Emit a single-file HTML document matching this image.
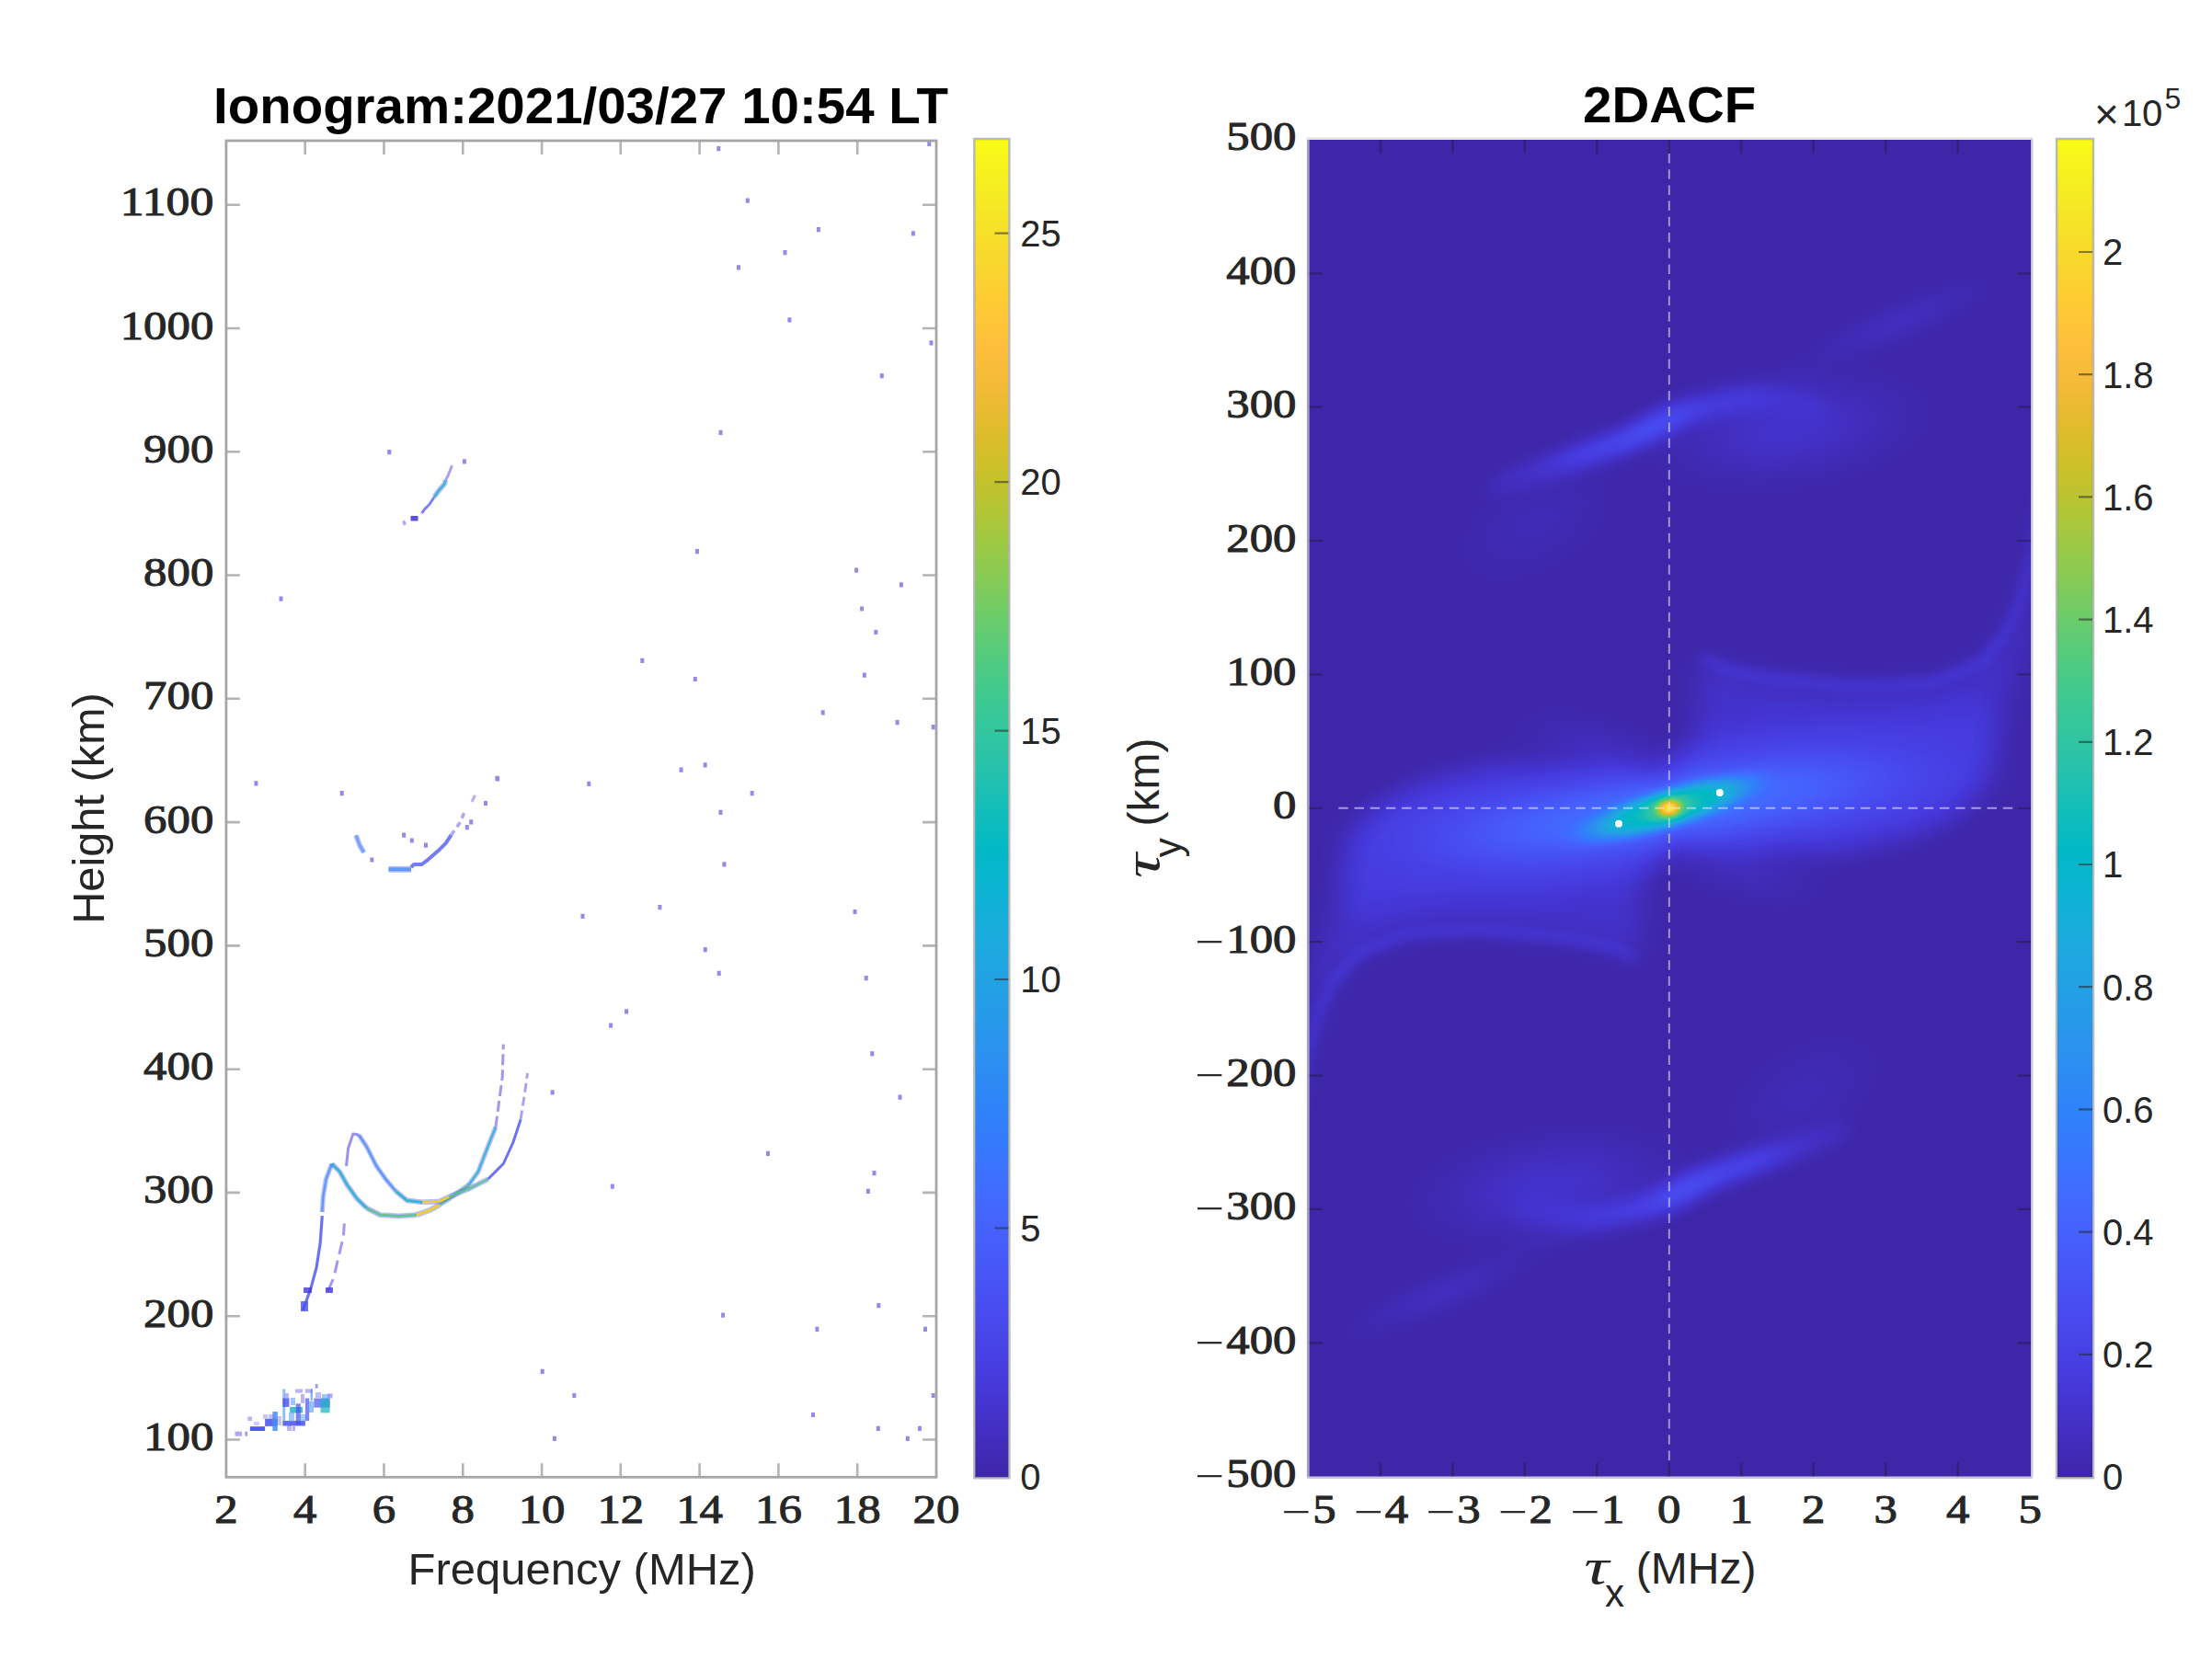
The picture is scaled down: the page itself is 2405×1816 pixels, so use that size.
<!DOCTYPE html>
<html lang="en"><head><meta charset="utf-8"><title>Ionogram and 2DACF</title>
<style>html,body{margin:0;padding:0;background:#fff;overflow:hidden}svg{display:block}.tk{font-family:"Liberation Serif",serif;font-weight:normal;font-size:44px;fill:#262626;stroke:#262626;stroke-width:1px}.mn{font-family:"Liberation Serif",serif;font-weight:normal;font-size:44px;fill:#262626}.sa{font-family:"Liberation Sans",sans-serif;fill:#262626}.tt{font-family:"Liberation Sans",sans-serif;font-weight:bold;fill:#000}</style></head><body>
<svg width="2405" height="1816" viewBox="0 0 2405 1816">
<defs>
<linearGradient id="pg" x1="0" y1="1" x2="0" y2="0"><stop offset="0.0000" stop-color="#3e26a8"/><stop offset="0.0312" stop-color="#422ebf"/><stop offset="0.0625" stop-color="#4536d5"/><stop offset="0.0938" stop-color="#4741e5"/><stop offset="0.1250" stop-color="#484cef"/><stop offset="0.1562" stop-color="#4757f7"/><stop offset="0.1875" stop-color="#4562fc"/><stop offset="0.2188" stop-color="#3f6efe"/><stop offset="0.2500" stop-color="#347afd"/><stop offset="0.2812" stop-color="#2e85f8"/><stop offset="0.3125" stop-color="#2c90f0"/><stop offset="0.3438" stop-color="#269ae9"/><stop offset="0.3750" stop-color="#21a3e3"/><stop offset="0.4062" stop-color="#1aacdd"/><stop offset="0.4375" stop-color="#0cb3d3"/><stop offset="0.4688" stop-color="#01b9c6"/><stop offset="0.5000" stop-color="#12beb9"/><stop offset="0.5312" stop-color="#28c2ab"/><stop offset="0.5625" stop-color="#34c79c"/><stop offset="0.5938" stop-color="#44ca8a"/><stop offset="0.6250" stop-color="#5ccc76"/><stop offset="0.6562" stop-color="#77cc60"/><stop offset="0.6875" stop-color="#94ca4a"/><stop offset="0.7188" stop-color="#afc637"/><stop offset="0.7500" stop-color="#c8c129"/><stop offset="0.7812" stop-color="#debc2a"/><stop offset="0.8125" stop-color="#f1ba37"/><stop offset="0.8438" stop-color="#febe3c"/><stop offset="0.8750" stop-color="#feca33"/><stop offset="0.9062" stop-color="#f9d62d"/><stop offset="0.9375" stop-color="#f5e327"/><stop offset="0.9688" stop-color="#f6ef20"/><stop offset="1.0000" stop-color="#f9fb15"/></linearGradient>
<radialGradient id="gg"><stop offset="0.000" stop-color="#fff" stop-opacity="1.0000"/><stop offset="0.050" stop-color="#fff" stop-opacity="0.9883"/><stop offset="0.100" stop-color="#fff" stop-opacity="0.9549"/><stop offset="0.150" stop-color="#fff" stop-opacity="0.9020"/><stop offset="0.200" stop-color="#fff" stop-opacity="0.8330"/><stop offset="0.250" stop-color="#fff" stop-opacity="0.7521"/><stop offset="0.300" stop-color="#fff" stop-opacity="0.6636"/><stop offset="0.350" stop-color="#fff" stop-opacity="0.5723"/><stop offset="0.400" stop-color="#fff" stop-opacity="0.4823"/><stop offset="0.450" stop-color="#fff" stop-opacity="0.3970"/><stop offset="0.500" stop-color="#fff" stop-opacity="0.3191"/><stop offset="0.550" stop-color="#fff" stop-opacity="0.2502"/><stop offset="0.600" stop-color="#fff" stop-opacity="0.1912"/><stop offset="0.650" stop-color="#fff" stop-opacity="0.1422"/><stop offset="0.700" stop-color="#fff" stop-opacity="0.1025"/><stop offset="0.750" stop-color="#fff" stop-opacity="0.0712"/><stop offset="0.800" stop-color="#fff" stop-opacity="0.0472"/><stop offset="0.850" stop-color="#fff" stop-opacity="0.0293"/><stop offset="0.900" stop-color="#fff" stop-opacity="0.0161"/><stop offset="0.950" stop-color="#fff" stop-opacity="0.0067"/><stop offset="1.000" stop-color="#fff" stop-opacity="0.0000"/></radialGradient>
<radialGradient id="gf"><stop offset="0.000" stop-color="#fff" stop-opacity="1.0000"/><stop offset="0.042" stop-color="#fff" stop-opacity="1.0000"/><stop offset="0.083" stop-color="#fff" stop-opacity="0.9998"/><stop offset="0.125" stop-color="#fff" stop-opacity="0.9988"/><stop offset="0.167" stop-color="#fff" stop-opacity="0.9961"/><stop offset="0.208" stop-color="#fff" stop-opacity="0.9905"/><stop offset="0.250" stop-color="#fff" stop-opacity="0.9804"/><stop offset="0.292" stop-color="#fff" stop-opacity="0.9640"/><stop offset="0.333" stop-color="#fff" stop-opacity="0.9394"/><stop offset="0.375" stop-color="#fff" stop-opacity="0.9047"/><stop offset="0.417" stop-color="#fff" stop-opacity="0.8585"/><stop offset="0.458" stop-color="#fff" stop-opacity="0.7998"/><stop offset="0.500" stop-color="#fff" stop-opacity="0.7288"/><stop offset="0.542" stop-color="#fff" stop-opacity="0.6467"/><stop offset="0.583" stop-color="#fff" stop-opacity="0.5564"/><stop offset="0.625" stop-color="#fff" stop-opacity="0.4619"/><stop offset="0.667" stop-color="#fff" stop-opacity="0.3679"/><stop offset="0.708" stop-color="#fff" stop-opacity="0.2796"/><stop offset="0.750" stop-color="#fff" stop-opacity="0.2015"/><stop offset="0.792" stop-color="#fff" stop-opacity="0.1369"/><stop offset="0.833" stop-color="#fff" stop-opacity="0.0870"/><stop offset="0.875" stop-color="#fff" stop-opacity="0.0514"/><stop offset="0.917" stop-color="#fff" stop-opacity="0.0280"/><stop offset="0.958" stop-color="#fff" stop-opacity="0.0140"/><stop offset="1.000" stop-color="#fff" stop-opacity="0.0063"/></radialGradient>
<filter id="cm" filterUnits="userSpaceOnUse" x="1300" y="50" width="1050" height="1700" color-interpolation-filters="sRGB"><feComponentTransfer><feFuncR type="table" tableValues="0.2422 0.2504 0.2578 0.2647 0.2706 0.2751 0.2783 0.2803 0.2813 0.2810 0.2795 0.2760 0.2699 0.2602 0.2440 0.2206 0.1963 0.1834 0.1786 0.1764 0.1687 0.1540 0.1460 0.1380 0.1248 0.1113 0.0952 0.0689 0.0297 0.0036 0.0067 0.0433 0.0964 0.1408 0.1717 0.1938 0.2161 0.2470 0.2906 0.3406 0.3909 0.4456 0.5044 0.5616 0.6174 0.6720 0.7242 0.7738 0.8203 0.8634 0.9035 0.9393 0.9728 0.9956 0.9970 0.9952 0.9892 0.9786 0.9676 0.9610 0.9597 0.9628 0.9691 0.9769"/><feFuncG type="table" tableValues="0.1504 0.1650 0.1818 0.1978 0.2147 0.2342 0.2559 0.2782 0.3006 0.3228 0.3447 0.3667 0.3892 0.4123 0.4358 0.4603 0.4847 0.5074 0.5289 0.5499 0.5703 0.5902 0.6091 0.6276 0.6459 0.6635 0.6798 0.6948 0.7082 0.7203 0.7312 0.7411 0.7500 0.7584 0.7670 0.7758 0.7843 0.7918 0.7973 0.8008 0.8029 0.8024 0.7993 0.7942 0.7876 0.7793 0.7698 0.7598 0.7498 0.7406 0.7330 0.7288 0.7298 0.7434 0.7659 0.7893 0.8136 0.8386 0.8639 0.8890 0.9135 0.9373 0.9606 0.9839"/><feFuncB type="table" tableValues="0.6603 0.7076 0.7511 0.7952 0.8364 0.8710 0.8991 0.9221 0.9414 0.9579 0.9717 0.9829 0.9906 0.9952 0.9988 0.9973 0.9892 0.9798 0.9682 0.9520 0.9359 0.9218 0.9079 0.8973 0.8883 0.8763 0.8598 0.8394 0.8163 0.7917 0.7660 0.7394 0.7120 0.6842 0.6554 0.6251 0.5923 0.5567 0.5188 0.4789 0.4354 0.3909 0.3480 0.3045 0.2612 0.2227 0.1910 0.1646 0.1535 0.1596 0.1774 0.2100 0.2394 0.2371 0.2199 0.2028 0.1885 0.1766 0.1643 0.1537 0.1423 0.1265 0.1064 0.0805"/></feComponentTransfer></filter>
<filter id="b3" filterUnits="userSpaceOnUse" x="-700" y="-950" width="1400" height="1900" color-interpolation-filters="sRGB"><feGaussianBlur stdDeviation="3"/></filter>
<filter id="b6" filterUnits="userSpaceOnUse" x="-700" y="-950" width="1400" height="1900" color-interpolation-filters="sRGB"><feGaussianBlur stdDeviation="6"/></filter>
<filter id="b10" filterUnits="userSpaceOnUse" x="-700" y="-950" width="1400" height="1900" color-interpolation-filters="sRGB"><feGaussianBlur stdDeviation="10"/></filter>
<filter id="b16" filterUnits="userSpaceOnUse" x="-700" y="-950" width="1400" height="1900" color-interpolation-filters="sRGB"><feGaussianBlur stdDeviation="16"/></filter>
<filter id="b24" filterUnits="userSpaceOnUse" x="-700" y="-950" width="1400" height="1900" color-interpolation-filters="sRGB"><feGaussianBlur stdDeviation="24"/></filter>
<clipPath id="hc"><rect x="1423.3" y="152" width="785" height="1453.8"/></clipPath>
<clipPath id="lc"><rect x="246.3" y="152.8" width="771.8" height="1453.5"/></clipPath>
</defs>
<rect width="2405" height="1816" fill="#fff"/>
<g clip-path="url(#lc)">
<path d="M779.3 159.1h4v5.2h-4zM1008.3 153.7h4v5.2h-4zM810.8 215.5h4v5.2h-4zM887.9 247.0h4v5.2h-4zM990.9 251.3h4v5.2h-4zM851.5 272.0h4v5.2h-4zM801.0 288.2h4v5.2h-4zM856.4 345.2h4v5.2h-4zM1010.5 370.2h4v5.2h-4zM956.8 406.0h4v5.2h-4zM781.5 467.8h4v5.2h-4zM421.2 489.0h4v5.2h-4zM502.9 499.2h4v5.2h-4zM756.0 597.0h4v5.2h-4zM929.1 617.6h4v5.2h-4zM977.9 633.3h4v5.2h-4zM303.5 648.5h4v5.2h-4zM935.1 659.4h4v5.2h-4zM950.3 684.9h4v5.2h-4zM696.3 715.8h4v5.2h-4zM753.8 735.9h4v5.2h-4zM937.8 731.5h4v5.2h-4zM892.7 772.2h4v5.2h-4zM973.6 783.1h4v5.2h-4zM1012.7 788.0h4v5.2h-4zM738.6 834.6h4v5.2h-4zM764.7 829.2h4v5.2h-4zM276.4 849.3h4v5.2h-4zM638.3 849.8h4v5.2h-4zM369.7 860.1h4v5.2h-4zM538.4 843.8h4v5.2h-4zM815.7 860.1h4v5.2h-4zM781.5 880.7h4v5.2h-4zM785.4 937.3h4v5.2h-4zM631.5 993.7h4v5.2h-4zM715.4 984.1h4v5.2h-4zM927.5 988.9h4v5.2h-4zM764.8 1030.0h4v5.2h-4zM779.7 1055.8h4v5.2h-4zM939.7 1061.0h4v5.2h-4zM679.1 1097.3h4v5.2h-4zM662.1 1112.6h4v5.2h-4zM946.3 1143.3h4v5.2h-4zM598.7 1185.2h4v5.2h-4zM976.5 1190.5h4v5.2h-4zM833.0 1251.7h4v5.2h-4zM948.5 1273.1h4v5.2h-4zM941.9 1292.8h4v5.2h-4zM663.8 1287.5h4v5.2h-4zM953.3 1417.0h4v5.2h-4zM784.1 1427.5h4v5.2h-4zM886.4 1442.8h4v5.2h-4zM1004.0 1442.8h4v5.2h-4zM587.7 1488.7h4v5.2h-4zM622.3 1514.9h4v5.2h-4zM1012.7 1514.9h4v5.2h-4zM882.0 1535.9h4v5.2h-4zM952.8 1550.8h4v5.2h-4zM997.9 1550.8h4v5.2h-4zM984.8 1561.7h4v5.2h-4zM600.9 1561.7h4v5.2h-4zM437.1 905.6h4v5.2h-4zM445.8 911.4h4v5.2h-4zM461.0 916.5h4v5.2h-4zM510.2 891.2h4v5.2h-4zM505.8 897.0h4v5.2h-4zM526.0 870.9h4v5.2h-4zM539.1 844.2h4v5.2h-4zM402.4 932.4h4v5.2h-4z" fill="#4f44dc" fill-opacity="0.62"/>
<path d="M329.3 1424.8L337.7 1401.8L344.0 1378.7L348.2 1351.5L350.3 1322.1" fill="none" stroke="#4650f0" stroke-width="3.2" stroke-opacity="0.8" stroke-linejoin="round"/>
<path d="M350.3 1318.0L351.3 1301.2L354.5 1282.3L360.8 1265.5" fill="none" stroke="#4a5af5" stroke-width="5.199999999999999" stroke-opacity="0.4" stroke-linejoin="round"/>
<path d="M350.3 1318.0L351.3 1301.2L354.5 1282.3L360.8 1265.5" fill="none" stroke="#3f8ff5" stroke-width="2.1999999999999997" stroke-opacity="0.75" stroke-linejoin="round"/>
<path d="M360.8 1265.5L369.2 1273.9L377.5 1288.6L388.0 1303.3L398.5 1313.7" fill="none" stroke="#4a5af5" stroke-width="5.6" stroke-opacity="0.4" stroke-linejoin="round"/>
<path d="M360.8 1265.5L369.2 1273.9L377.5 1288.6L388.0 1303.3L398.5 1313.7" fill="none" stroke="#1fb4c4" stroke-width="2.6" stroke-opacity="0.85" stroke-linejoin="round"/>
<path d="M398.5 1313.7L413.2 1321.1L434.1 1322.3L453.0 1321.1" fill="none" stroke="#4a5af5" stroke-width="5.8" stroke-opacity="0.4" stroke-linejoin="round"/>
<path d="M398.5 1313.7L413.2 1321.1L434.1 1322.3L453.0 1321.1" fill="none" stroke="#5cc48a" stroke-width="2.8" stroke-opacity="0.9" stroke-linejoin="round"/>
<path d="M453.0 1321.1L467.6 1315.8L478.0 1310.0" fill="none" stroke="#4a5af5" stroke-width="6.0" stroke-opacity="0.4" stroke-linejoin="round"/>
<path d="M453.0 1321.1L467.6 1315.8L478.0 1310.0" fill="none" stroke="#f2cf22" stroke-width="3.0" stroke-opacity="0.95" stroke-linejoin="round"/>
<path d="M478.0 1310.0L488.6 1303.3L509.6 1288.6" fill="none" stroke="#4a5af5" stroke-width="5.6" stroke-opacity="0.4" stroke-linejoin="round"/>
<path d="M478.0 1310.0L488.6 1303.3L509.6 1288.6" fill="none" stroke="#5cc48a" stroke-width="2.6" stroke-opacity="0.9" stroke-linejoin="round"/>
<path d="M509.6 1288.6L520.0 1273.9L530.5 1246.7L538.9 1225.7" fill="none" stroke="#4a5af5" stroke-width="5.199999999999999" stroke-opacity="0.4" stroke-linejoin="round"/>
<path d="M509.6 1288.6L520.0 1273.9L530.5 1246.7L538.9 1225.7" fill="none" stroke="#1fb4c4" stroke-width="2.1999999999999997" stroke-opacity="0.8" stroke-linejoin="round"/>
<path d="M538.9 1225.7L543.1 1194.3L546.2 1171.2L547.3 1135.6" fill="none" stroke="#7a6ce8" stroke-width="3.0" stroke-opacity="0.7" stroke-linejoin="round" stroke-dasharray="12 5"/>
<path d="M356.6 1403.9L362.9 1389.2L369.2 1362.0L373.3 1345.2L374.4 1330.5" fill="none" stroke="#7a6ce8" stroke-width="3.0" stroke-opacity="0.7" stroke-linejoin="round" stroke-dasharray="14 7"/>
<path d="M376.5 1268.0L378.6 1248.8L383.8 1233.1L390.1 1234.1" fill="none" stroke="#7a6ce8" stroke-width="3.0" stroke-opacity="0.75" stroke-linejoin="round"/>
<path d="M390.1 1234.1L398.5 1246.7L409.0 1267.6L419.4 1282.3L429.9 1294.9" fill="none" stroke="#4a5af5" stroke-width="5.199999999999999" stroke-opacity="0.4" stroke-linejoin="round"/>
<path d="M390.1 1234.1L398.5 1246.7L409.0 1267.6L419.4 1282.3L429.9 1294.9" fill="none" stroke="#3f8ff5" stroke-width="2.1999999999999997" stroke-opacity="0.8" stroke-linejoin="round"/>
<path d="M429.9 1294.9L442.5 1305.4L459.3 1307.4" fill="none" stroke="#4a5af5" stroke-width="5.6" stroke-opacity="0.4" stroke-linejoin="round"/>
<path d="M429.9 1294.9L442.5 1305.4L459.3 1307.4" fill="none" stroke="#1fb4c4" stroke-width="2.6" stroke-opacity="0.85" stroke-linejoin="round"/>
<path d="M459.3 1307.4L478.1 1306.4L488.6 1301.2" fill="none" stroke="#4a5af5" stroke-width="5.8" stroke-opacity="0.4" stroke-linejoin="round"/>
<path d="M459.3 1307.4L478.1 1306.4L488.6 1301.2" fill="none" stroke="#f2cf22" stroke-width="2.8" stroke-opacity="0.9" stroke-linejoin="round"/>
<path d="M488.6 1301.2L509.6 1292.8L530.5 1282.3" fill="none" stroke="#4a5af5" stroke-width="5.6" stroke-opacity="0.4" stroke-linejoin="round"/>
<path d="M488.6 1301.2L509.6 1292.8L530.5 1282.3" fill="none" stroke="#5cc48a" stroke-width="2.6" stroke-opacity="0.85" stroke-linejoin="round"/>
<path d="M530.5 1282.3L547.3 1265.5L557.8 1242.5L566.1 1217.4" fill="none" stroke="#4650f0" stroke-width="3.0" stroke-opacity="0.8" stroke-linejoin="round"/>
<path d="M566.1 1217.4L570.3 1190.1L573.5 1167.0" fill="none" stroke="#7a6ce8" stroke-width="2.8" stroke-opacity="0.65" stroke-linejoin="round" stroke-dasharray="10 5"/>
<rect x="327" y="1415" width="8" height="11" fill="#4650f0" fill-opacity="0.8"/><rect x="330" y="1400" width="9" height="6" fill="#4438d8" fill-opacity="0.8"/><rect x="354" y="1400" width="8" height="6" fill="#4438d8" fill-opacity="0.8"/>
<path d="M422.5 945.3L447.0 945.3" fill="none" stroke="#4a5af5" stroke-width="6.9" stroke-opacity="0.4" stroke-linejoin="round"/>
<path d="M422.5 945.3L447.0 945.3" fill="none" stroke="#3f8ff5" stroke-width="3.9" stroke-opacity="0.75" stroke-linejoin="round"/>
<path d="M447.0 943.0L450.0 940.0L458.6 940.0L465.9 934.3L476.0 925.6L484.7 916.9L490.5 908.2" fill="none" stroke="#4650f0" stroke-width="4.0" stroke-opacity="0.75" stroke-linejoin="round"/>
<path d="M490.5 908.2L500.6 893.8L505.0 882.9" fill="none" stroke="#7a6ce8" stroke-width="3.6" stroke-opacity="0.6" stroke-linejoin="round" stroke-dasharray="6 5"/>
<path d="M513.0 872.0L516.5 864.8" fill="none" stroke="#7a6ce8" stroke-width="3.2" stroke-opacity="0.5" stroke-linejoin="round"/>
<path d="M387.0 908.2L391.0 919.0L395.7 927.0" fill="none" stroke="#4a5af5" stroke-width="5.6" stroke-opacity="0.4" stroke-linejoin="round"/>
<path d="M387.0 908.2L391.0 919.0L395.7 927.0" fill="none" stroke="#3f8ff5" stroke-width="2.6" stroke-opacity="0.6" stroke-linejoin="round"/>
<path d="M438.0 569.1L441.0 568.0" fill="none" stroke="#7a6ce8" stroke-width="5" stroke-opacity="0.6" stroke-linejoin="round"/>
<path d="M446.5 563.7L454.5 563.7" fill="none" stroke="#4a3cd8" stroke-width="5.5" stroke-opacity="0.9" stroke-linejoin="round"/>
<path d="M458.6 558.2L461.5 553.9L466.9 548.5L472.3 540.2" fill="none" stroke="#4650f0" stroke-width="3.0" stroke-opacity="0.7" stroke-linejoin="round"/>
<path d="M472.3 540.2L477.8 532.6L483.2 526.4L484.6 522.1" fill="none" stroke="#4a5af5" stroke-width="5.6" stroke-opacity="0.4" stroke-linejoin="round"/>
<path d="M472.3 540.2L477.8 532.6L483.2 526.4L484.6 522.1" fill="none" stroke="#1fb4c4" stroke-width="2.6" stroke-opacity="0.75" stroke-linejoin="round"/>
<path d="M484.6 522.1L487.5 516.3L491.5 506.2" fill="none" stroke="#7a6ce8" stroke-width="3.0" stroke-opacity="0.65" stroke-linejoin="round"/>
<rect x="255.5" y="1556.7" width="7.6" height="5" fill="#7a6ce8" fill-opacity="0.6"/>
<rect x="266.4" y="1556.7" width="2.6" height="5" fill="#7a6ce8" fill-opacity="0.7"/>
<rect x="271.8" y="1551.2" width="16.3" height="4.8" fill="#4650f0" fill-opacity="0.95"/>
<rect x="269.3" y="1540.4" width="4.7" height="4.7" fill="#7a6ce8" fill-opacity="0.5"/>
<rect x="288.1" y="1542.9" width="13.4" height="8" fill="#4650f0" fill-opacity="0.85"/>
<rect x="296.4" y="1535" width="5.4" height="21" fill="#3f8ff5" fill-opacity="0.85"/>
<rect x="307.3" y="1545.1" width="24.6" height="5.4" fill="#4650f0" fill-opacity="0.85"/>
<rect x="307.3" y="1510.4" width="2.9" height="34.7" fill="#3f8ff5" fill-opacity="0.6"/>
<rect x="307.3" y="1520.5" width="7.2" height="9.4" fill="#4650f0" fill-opacity="0.8"/>
<rect x="315.2" y="1529.9" width="13.8" height="6.5" fill="#1fb4c4" fill-opacity="0.85"/>
<rect x="321.7" y="1526.3" width="5.1" height="23.1" fill="#4650f0" fill-opacity="0.7"/>
<rect x="331.9" y="1520.5" width="4.3" height="24.6" fill="#4650f0" fill-opacity="0.7"/>
<rect x="337.6" y="1510.4" width="2.2" height="13" fill="#3f8ff5" fill-opacity="0.7"/>
<rect x="341.3" y="1520.5" width="17.3" height="10.1" fill="#4650f0" fill-opacity="0.7"/>
<rect x="348.5" y="1521.2" width="10.1" height="15.2" fill="#1fb4c4" fill-opacity="0.75"/>
<rect x="321" y="1510.4" width="8" height="4.3" fill="#7a6ce8" fill-opacity="0.5"/>
<rect x="331.9" y="1510.4" width="7.9" height="4.3" fill="#7a6ce8" fill-opacity="0.5"/>
<rect x="342.7" y="1505" width="2.9" height="4.7" fill="#7a6ce8" fill-opacity="0.7"/>
<rect x="356.5" y="1515.4" width="5" height="5.1" fill="#7a6ce8" fill-opacity="0.6"/>
<rect x="314" y="1536" width="6" height="9" fill="#3f8ff5" fill-opacity="0.5"/>
<rect x="326" y="1538" width="6" height="8" fill="#3f8ff5" fill-opacity="0.45"/>
<rect x="310" y="1515" width="4" height="6" fill="#7a6ce8" fill-opacity="0.5"/>
<rect x="316" y="1520" width="5" height="8" fill="#3f8ff5" fill-opacity="0.5"/>
<rect x="327" y="1516" width="4" height="10" fill="#7a6ce8" fill-opacity="0.5"/>
<rect x="336" y="1524" width="5" height="12" fill="#3f8ff5" fill-opacity="0.55"/>
<rect x="343" y="1514" width="6" height="6" fill="#7a6ce8" fill-opacity="0.45"/>
<rect x="350" y="1516" width="8" height="5" fill="#3f8ff5" fill-opacity="0.5"/>
<rect x="301" y="1540" width="5" height="10" fill="#7a6ce8" fill-opacity="0.4"/>
<rect x="312" y="1550" width="5" height="6" fill="#7a6ce8" fill-opacity="0.5"/>
<rect x="318" y="1551" width="3" height="5" fill="#7a6ce8" fill-opacity="0.55"/>
<rect x="276" y="1546" width="6" height="4" fill="#7a6ce8" fill-opacity="0.35"/>
<rect x="286" y="1538" width="5" height="5" fill="#7a6ce8" fill-opacity="0.4"/>
<rect x="292" y="1538" width="6" height="5" fill="#7a6ce8" fill-opacity="0.45"/>
</g>
<g fill="none" stroke="#b4b4b0" stroke-width="2.6">
<path d="M331.7 1606.3v-15M331.7 153.0v15M417.5 1606.3v-15M417.5 153.0v15M503.3 1606.3v-15M503.3 153.0v15M589.1 1606.3v-15M589.1 153.0v15M674.8 1606.3v-15M674.8 153.0v15M760.6 1606.3v-15M760.6 153.0v15M846.4 1606.3v-15M846.4 153.0v15M932.2 1606.3v-15M932.2 153.0v15M245.9 1565.5h15M1018.0 1565.5h-15M245.9 1431.2h15M1018.0 1431.2h-15M245.9 1296.9h15M1018.0 1296.9h-15M245.9 1162.7h15M1018.0 1162.7h-15M245.9 1028.4h15M1018.0 1028.4h-15M245.9 894.1h15M1018.0 894.1h-15M245.9 759.8h15M1018.0 759.8h-15M245.9 625.5h15M1018.0 625.5h-15M245.9 491.3h15M1018.0 491.3h-15M245.9 357.0h15M1018.0 357.0h-15M245.9 222.7h15M1018.0 222.7h-15"/></g>
<rect x="245.9" y="153.0" width="772.1" height="1453.3" fill="none" stroke="#a6a6a6" stroke-width="2.8"/>
<text class="tk" x="156.1" y="1577.0" textLength="76.2" lengthAdjust="spacingAndGlyphs">100</text>
<text class="tk" x="156.1" y="1442.7" textLength="76.2" lengthAdjust="spacingAndGlyphs">200</text>
<text class="tk" x="156.1" y="1308.4" textLength="76.2" lengthAdjust="spacingAndGlyphs">300</text>
<text class="tk" x="156.1" y="1174.2" textLength="76.2" lengthAdjust="spacingAndGlyphs">400</text>
<text class="tk" x="156.1" y="1039.9" textLength="76.2" lengthAdjust="spacingAndGlyphs">500</text>
<text class="tk" x="156.1" y="905.6" textLength="76.2" lengthAdjust="spacingAndGlyphs">600</text>
<text class="tk" x="156.1" y="771.3" textLength="76.2" lengthAdjust="spacingAndGlyphs">700</text>
<text class="tk" x="156.1" y="637.0" textLength="76.2" lengthAdjust="spacingAndGlyphs">800</text>
<text class="tk" x="156.1" y="502.8" textLength="76.2" lengthAdjust="spacingAndGlyphs">900</text>
<text class="tk" x="130.7" y="368.5" textLength="101.6" lengthAdjust="spacingAndGlyphs">1000</text>
<text class="tk" x="130.7" y="234.2" textLength="101.6" lengthAdjust="spacingAndGlyphs">1100</text>
<text class="tk" x="233.2" y="1656.3" textLength="25.4" lengthAdjust="spacingAndGlyphs">2</text>
<text class="tk" x="319.0" y="1656.3" textLength="25.4" lengthAdjust="spacingAndGlyphs">4</text>
<text class="tk" x="404.8" y="1656.3" textLength="25.4" lengthAdjust="spacingAndGlyphs">6</text>
<text class="tk" x="490.6" y="1656.3" textLength="25.4" lengthAdjust="spacingAndGlyphs">8</text>
<text class="tk" x="563.7" y="1656.3" textLength="50.8" lengthAdjust="spacingAndGlyphs">10</text>
<text class="tk" x="649.4" y="1656.3" textLength="50.8" lengthAdjust="spacingAndGlyphs">12</text>
<text class="tk" x="735.2" y="1656.3" textLength="50.8" lengthAdjust="spacingAndGlyphs">14</text>
<text class="tk" x="821.0" y="1656.3" textLength="50.8" lengthAdjust="spacingAndGlyphs">16</text>
<text class="tk" x="906.8" y="1656.3" textLength="50.8" lengthAdjust="spacingAndGlyphs">18</text>
<text class="tk" x="992.6" y="1656.3" textLength="50.8" lengthAdjust="spacingAndGlyphs">20</text>
<text class="tt" x="232" y="134.2" font-size="55.5" textLength="799" lengthAdjust="spacingAndGlyphs">Ionogram:2021/03/27 10:54 LT</text>
<text class="sa" x="443.5" y="1722.6" font-size="48" textLength="378.4" lengthAdjust="spacingAndGlyphs">Frequency (MHz)</text>
<text class="sa" transform="translate(113.4 1004.8) rotate(-90)" font-size="48" textLength="251.6" lengthAdjust="spacingAndGlyphs">Height (km)</text>
<rect x="1060.3" y="152" width="36.100000000000136" height="1454.3" fill="url(#pg)"/>
<rect x="1059.3" y="151" width="38.100000000000136" height="1456.3" fill="none" stroke="#262626" stroke-opacity="0.32" stroke-width="2.4"/>
<text class="sa" x="1109.3" y="1349.8" font-size="40">5</text>
<text class="sa" x="1109.3" y="1079.3" font-size="40">10</text>
<text class="sa" x="1109.3" y="808.9" font-size="40">15</text>
<text class="sa" x="1109.3" y="538.4" font-size="40">20</text>
<text class="sa" x="1109.3" y="267.9" font-size="40">25</text>
<text class="sa" x="1109.3" y="1620.3" font-size="40">0</text>
<path d="M1096.4 1335.5h-15M1096.4 1065.0h-15M1096.4 794.6h-15M1096.4 524.1h-15M1096.4 253.6h-15" stroke="#262626" stroke-opacity="0.55" stroke-width="2.2" fill="none"/>
<g clip-path="url(#hc)"><g filter="url(#cm)">
<rect x="1350" y="80" width="930" height="1600" fill="#000"/>
<g transform="translate(1814.8 878.8)"><g filter="url(#b16)"><path d="M34 -165L60 -152L110 -142L206 -133L285 -137L338 -158L364 -187L383 -227L396 -280L404 -280L398 -227L382 -170L368 -120L359 -82L348 -29L311 10L259 32L180 50L74 45L0 24L0 -40L26 -62Z" fill="#fff" fill-opacity="0.048"/></g><g filter="url(#b16)"><path d="M20 -85L120 -100L260 -105L345 -120L359 -82L348 -29L311 10L259 32L180 50L74 45L0 24L0 -40Z" fill="#fff" fill-opacity="0.035"/></g><ellipse cx="0" cy="0" rx="276" ry="90" fill="url(#gg)" fill-opacity="0.06" transform="translate(150 -22) rotate(-5)"/><g filter="url(#b6)"><path d="M34 -165L60 -152L110 -142L206 -133L285 -137L338 -158L364 -187L383 -227L396 -280L404 -340" fill="none" stroke="#fff" stroke-opacity="0.04" stroke-width="13" stroke-linejoin="round"/></g><ellipse cx="0" cy="0" rx="180" ry="66" fill="url(#gg)" fill-opacity="0.03" transform="translate(60 55) rotate(20)"/><g filter="url(#b10)"><path d="M-193 -349L-120 -375L-48 -399L0 -426L71 -446L167 -438" fill="none" stroke="#fff" stroke-opacity="0.035" stroke-width="16"/></g><ellipse cx="0" cy="0" rx="165" ry="36" fill="url(#gg)" fill-opacity="0.075" transform="translate(-65 -394) rotate(-19)"/><ellipse cx="0" cy="0" rx="84" ry="33" fill="url(#gg)" fill-opacity="0.055" transform="translate(-10 -420) rotate(-27)"/><ellipse cx="0" cy="0" rx="144" ry="36" fill="url(#gg)" fill-opacity="0.04" transform="translate(60 -442) rotate(-13)"/><ellipse cx="0" cy="0" rx="225" ry="96" fill="url(#gg)" fill-opacity="0.05" transform="translate(130 -412) rotate(-8)"/><ellipse cx="0" cy="0" rx="180" ry="39" fill="url(#gg)" fill-opacity="0.03" transform="translate(248 -528) rotate(-23)"/><ellipse cx="0" cy="0" rx="165" ry="96" fill="url(#gg)" fill-opacity="0.02" transform="translate(-146 -310) rotate(-30)"/></g>
<g transform="translate(1814.8 878.8) rotate(180)"><g filter="url(#b16)"><path d="M34 -165L60 -152L110 -142L206 -133L285 -137L338 -158L364 -187L383 -227L396 -280L404 -280L398 -227L382 -170L368 -120L359 -82L348 -29L311 10L259 32L180 50L74 45L0 24L0 -40L26 -62Z" fill="#fff" fill-opacity="0.048"/></g><g filter="url(#b16)"><path d="M20 -85L120 -100L260 -105L345 -120L359 -82L348 -29L311 10L259 32L180 50L74 45L0 24L0 -40Z" fill="#fff" fill-opacity="0.035"/></g><ellipse cx="0" cy="0" rx="276" ry="90" fill="url(#gg)" fill-opacity="0.06" transform="translate(150 -22) rotate(-5)"/><g filter="url(#b6)"><path d="M34 -165L60 -152L110 -142L206 -133L285 -137L338 -158L364 -187L383 -227L396 -280L404 -340" fill="none" stroke="#fff" stroke-opacity="0.04" stroke-width="13" stroke-linejoin="round"/></g><ellipse cx="0" cy="0" rx="180" ry="66" fill="url(#gg)" fill-opacity="0.03" transform="translate(60 55) rotate(20)"/><g filter="url(#b10)"><path d="M-193 -349L-120 -375L-48 -399L0 -426L71 -446L167 -438" fill="none" stroke="#fff" stroke-opacity="0.035" stroke-width="16"/></g><ellipse cx="0" cy="0" rx="165" ry="36" fill="url(#gg)" fill-opacity="0.075" transform="translate(-65 -394) rotate(-19)"/><ellipse cx="0" cy="0" rx="84" ry="33" fill="url(#gg)" fill-opacity="0.055" transform="translate(-10 -420) rotate(-27)"/><ellipse cx="0" cy="0" rx="144" ry="36" fill="url(#gg)" fill-opacity="0.04" transform="translate(60 -442) rotate(-13)"/><ellipse cx="0" cy="0" rx="225" ry="96" fill="url(#gg)" fill-opacity="0.05" transform="translate(130 -412) rotate(-8)"/><ellipse cx="0" cy="0" rx="180" ry="39" fill="url(#gg)" fill-opacity="0.03" transform="translate(248 -528) rotate(-23)"/><ellipse cx="0" cy="0" rx="165" ry="96" fill="url(#gg)" fill-opacity="0.02" transform="translate(-146 -310) rotate(-30)"/></g>
<g transform="translate(1814.8 878.8)">
<ellipse cx="0" cy="0" rx="345" ry="78" fill="url(#gg)" fill-opacity="0.15" transform="translate(0 0) rotate(-9)"/>
<ellipse cx="0" cy="0" rx="132.0" ry="30.0" fill="url(#gf)" fill-opacity="0.34" transform="translate(0 0) rotate(-17)"/>
<ellipse cx="0" cy="0" rx="39" ry="24" fill="url(#gg)" fill-opacity="0.45" transform="translate(0 0) rotate(-14)"/>
<ellipse cx="0" cy="0" rx="19.5" ry="14.399999999999999" fill="url(#gg)" fill-opacity="0.9" transform="translate(0 0) rotate(-8)"/>
</g>
</g></g>
<path d="M1501.0 1605.8v-15M1501.0 152.0v15M1579.4 1605.8v-15M1579.4 152.0v15M1657.9 1605.8v-15M1657.9 152.0v15M1736.3 1605.8v-15M1736.3 152.0v15M1814.8 1605.8v-15M1814.8 152.0v15M1893.2 1605.8v-15M1893.2 152.0v15M1971.7 1605.8v-15M1971.7 152.0v15M2050.2 1605.8v-15M2050.2 152.0v15M2128.6 1605.8v-15M2128.6 152.0v15M1423.3 1460.3h15M2208.3 1460.3h-15M1423.3 1314.9h15M2208.3 1314.9h-15M1423.3 1169.6h15M2208.3 1169.6h-15M1423.3 1024.2h15M2208.3 1024.2h-15M1423.3 878.8h15M2208.3 878.8h-15M1423.3 733.4h15M2208.3 733.4h-15M1423.3 588.0h15M2208.3 588.0h-15M1423.3 442.7h15M2208.3 442.7h-15M1423.3 297.3h15M2208.3 297.3h-15" stroke="#1a1a1a" stroke-opacity="0.36" stroke-width="2.2" fill="none"/>
<path d="M1814.8 167.0V1590.8M1455.3 878.8H2193.3" stroke="#e4e0f4" stroke-opacity="0.62" stroke-width="1.9" stroke-dasharray="10.5 6.7" fill="none"/>
<circle cx="1869.8" cy="861.9" r="4" fill="#fff"/><circle cx="1760.0" cy="895.8" r="4" fill="#fff"/>
<path d="M1422.1 150.6V1606.8" stroke="#a5a0b9" stroke-width="2.4" fill="none"/>
<path d="M1420.8999999999999 150.6H2209.3" stroke="#e6e6de" stroke-width="2.7" fill="none"/>
<path d="M1420.8999999999999 1606.8H2209.3M2209.3 150.6V1606.8" stroke="#c9c7d6" stroke-width="2.2" fill="none"/>
<text class="tk" x="1333.3" y="1617.2" textLength="76.2" lengthAdjust="spacingAndGlyphs">500</text>
<text class="mn" x="1299.3" y="1620.2" textLength="32" lengthAdjust="spacingAndGlyphs">−</text>
<text class="tk" x="1333.3" y="1471.8" textLength="76.2" lengthAdjust="spacingAndGlyphs">400</text>
<text class="mn" x="1299.3" y="1474.8" textLength="32" lengthAdjust="spacingAndGlyphs">−</text>
<text class="tk" x="1333.3" y="1326.4" textLength="76.2" lengthAdjust="spacingAndGlyphs">300</text>
<text class="mn" x="1299.3" y="1329.4" textLength="32" lengthAdjust="spacingAndGlyphs">−</text>
<text class="tk" x="1333.3" y="1181.1" textLength="76.2" lengthAdjust="spacingAndGlyphs">200</text>
<text class="mn" x="1299.3" y="1184.1" textLength="32" lengthAdjust="spacingAndGlyphs">−</text>
<text class="tk" x="1333.3" y="1035.7" textLength="76.2" lengthAdjust="spacingAndGlyphs">100</text>
<text class="mn" x="1299.3" y="1038.7" textLength="32" lengthAdjust="spacingAndGlyphs">−</text>
<text class="tk" x="1384.1" y="890.3" textLength="25.4" lengthAdjust="spacingAndGlyphs">0</text>
<text class="tk" x="1333.3" y="744.9" textLength="76.2" lengthAdjust="spacingAndGlyphs">100</text>
<text class="tk" x="1333.3" y="599.5" textLength="76.2" lengthAdjust="spacingAndGlyphs">200</text>
<text class="tk" x="1333.3" y="454.2" textLength="76.2" lengthAdjust="spacingAndGlyphs">300</text>
<text class="tk" x="1333.3" y="308.8" textLength="76.2" lengthAdjust="spacingAndGlyphs">400</text>
<text class="tk" x="1333.3" y="163.4" textLength="76.2" lengthAdjust="spacingAndGlyphs">500</text>
<text class="mn" x="1393.6" y="1659.4" textLength="32" lengthAdjust="spacingAndGlyphs">−</text>
<text class="tk" x="1427.3" y="1656.2" textLength="25.4" lengthAdjust="spacingAndGlyphs">5</text>
<text class="mn" x="1472.0" y="1659.4" textLength="32" lengthAdjust="spacingAndGlyphs">−</text>
<text class="tk" x="1505.8" y="1656.2" textLength="25.4" lengthAdjust="spacingAndGlyphs">4</text>
<text class="mn" x="1550.5" y="1659.4" textLength="32" lengthAdjust="spacingAndGlyphs">−</text>
<text class="tk" x="1584.2" y="1656.2" textLength="25.4" lengthAdjust="spacingAndGlyphs">3</text>
<text class="mn" x="1628.9" y="1659.4" textLength="32" lengthAdjust="spacingAndGlyphs">−</text>
<text class="tk" x="1662.6" y="1656.2" textLength="25.4" lengthAdjust="spacingAndGlyphs">2</text>
<text class="mn" x="1707.4" y="1659.4" textLength="32" lengthAdjust="spacingAndGlyphs">−</text>
<text class="tk" x="1741.1" y="1656.2" textLength="25.4" lengthAdjust="spacingAndGlyphs">1</text>
<text class="tk" x="1802.1" y="1656.2" textLength="25.4" lengthAdjust="spacingAndGlyphs">0</text>
<text class="tk" x="1880.5" y="1656.2" textLength="25.4" lengthAdjust="spacingAndGlyphs">1</text>
<text class="tk" x="1959.0" y="1656.2" textLength="25.4" lengthAdjust="spacingAndGlyphs">2</text>
<text class="tk" x="2037.5" y="1656.2" textLength="25.4" lengthAdjust="spacingAndGlyphs">3</text>
<text class="tk" x="2115.9" y="1656.2" textLength="25.4" lengthAdjust="spacingAndGlyphs">4</text>
<text class="tk" x="2194.4" y="1656.2" textLength="25.4" lengthAdjust="spacingAndGlyphs">5</text>
<text class="tt" x="1721" y="133.4" font-size="55.5" textLength="188.3" lengthAdjust="spacingAndGlyphs">2DACF</text>
<g transform="translate(1723.6 1722.2)"><text x="-1" y="0" transform="scale(1.4 1)" font-family="'Liberation Serif',serif" font-style="italic" font-size="54" fill="#262626">τ</text><text class="sa" x="21.3" y="24.3" font-size="42">x</text><text class="sa" x="55.2" y="0" font-size="48">(MHz)</text></g>
<g transform="translate(1260 953.6) rotate(-90)"><text x="-1" y="0" transform="scale(1.4 1)" font-family="'Liberation Serif',serif" font-style="italic" font-size="54" fill="#262626">τ</text><text class="sa" x="21.3" y="24.3" font-size="42">y</text><text class="sa" x="55.2" y="0" font-size="48">(km)</text></g>
<rect x="2237.0" y="152" width="38.0" height="1454.2" fill="url(#pg)"/>
<rect x="2236.0" y="151" width="40.0" height="1456.2" fill="none" stroke="#262626" stroke-opacity="0.32" stroke-width="2.4"/>
<text class="sa" x="2286.0" y="1620.3" font-size="40">0</text>
<text class="sa" x="2286.0" y="1487.1" font-size="40">0.2</text>
<text class="sa" x="2286.0" y="1353.9" font-size="40">0.4</text>
<text class="sa" x="2286.0" y="1220.7" font-size="40">0.6</text>
<text class="sa" x="2286.0" y="1087.5" font-size="40">0.8</text>
<text class="sa" x="2286.0" y="954.3" font-size="40">1</text>
<text class="sa" x="2286.0" y="821.1" font-size="40">1.2</text>
<text class="sa" x="2286.0" y="687.9" font-size="40">1.4</text>
<text class="sa" x="2286.0" y="554.7" font-size="40">1.6</text>
<text class="sa" x="2286.0" y="421.5" font-size="40">1.8</text>
<text class="sa" x="2286.0" y="288.3" font-size="40">2</text>
<path d="M2275.0 1472.8h-15M2275.0 1339.6h-15M2275.0 1206.4h-15M2275.0 1073.2h-15M2275.0 940.0h-15M2275.0 806.8h-15M2275.0 673.6h-15M2275.0 540.4h-15M2275.0 407.2h-15M2275.0 274.0h-15" stroke="#262626" stroke-opacity="0.55" stroke-width="2.2" fill="none"/>
<text class="sa" x="2277" y="137.4" font-size="40"><tspan font-size="46" dy="3">×</tspan><tspan dx="3" dy="-3">10</tspan><tspan dy="-19" dx="2" font-size="32">5</tspan></text>
</svg></body></html>
